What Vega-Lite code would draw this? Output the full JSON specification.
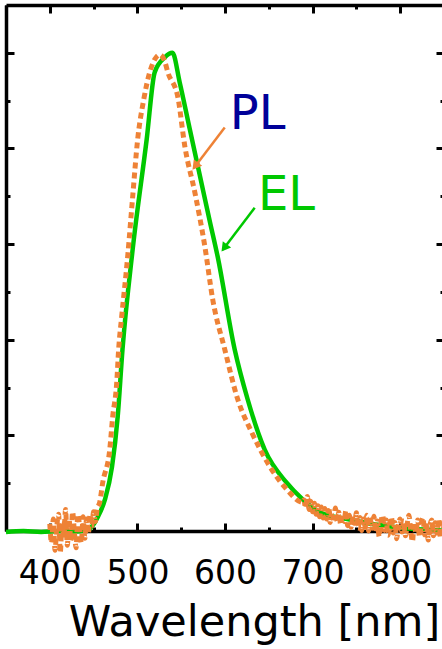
{
  "$schema": "https://vega.github.io/schema/vega-lite/v6.json",
  "width": 438,
  "height": 526,
  "autosize": "none",
  "padding": {"left": 6, "top": 5, "right": 0, "bottom": 118},
  "background": "white",
  "config": {"view": {"stroke": null}, "axis": {"grid": false, "domainColor": "black", "tickColor": "black", "labelColor": "black", "titleColor": "black"}},
  "layer": [
    {
      "encoding": {
        "x": {"field": "w", "type": "quantitative", "scale": {"domain": [350, 850], "nice": false, "zero": false},
          "axis": {"orient": "bottom", "values": [350, 400, 450, 500, 550, 600, 650, 700, 750, 800, 850],
            "labelExpr": "datum.value % 100 === 0 ? datum.label : ''",
            "tickSize": {"condition": {"test": "datum.value % 100 === 0", "value": -8}, "value": -4},
            "tickWidth": 3, "domainWidth": 3.5, "labelFont": "DejaVu Sans", "labelFontSize": 33, "labelPadding": 34,
            "labelFlush": false, "labelOverlap": false,
            "title": "Wavelength [nm]", "titleFont": "DejaVu Sans", "titleFontSize": 43, "titleFontWeight": "normal",
            "titleX": 248, "titleY": 104, "titleBaseline": "alphabetic", "titleAlign": "center", "titleAnchor": null}},
        "y": {"field": "p", "type": "quantitative", "scale": {"domain": [0, 1.1], "nice": false, "zero": false},
          "axis": {"orient": "left", "values": [0.1, 0.2, 0.3, 0.4, 0.5, 0.6, 0.7, 0.8, 0.9, 1.0], "labels": false, "title": null,
            "tickSize": {"condition": {"test": "round(datum.value*10) % 2 === 0", "value": -8}, "value": -4},
            "tickWidth": 3, "domainWidth": 3.5}}
      },
      "layer": [
        {
          "data": {"values": [
            {"w": 350, "p": -0.002}, {"w": 370, "p": 0.0}, {"w": 390, "p": -0.002}, {"w": 410, "p": 0.0}, {"w": 430, "p": -0.001},
            {"w": 440, "p": 0.001}, {"w": 445, "p": 0.003}, {"w": 448, "p": 0.009}, {"w": 455, "p": 0.03}, {"w": 463, "p": 0.066},
            {"w": 471, "p": 0.134}, {"w": 477.5, "p": 0.239}, {"w": 483, "p": 0.38}, {"w": 494.6, "p": 0.589}, {"w": 510.6, "p": 0.819},
            {"w": 519.7, "p": 0.959}, {"w": 531, "p": 0.99}, {"w": 540, "p": 1.0}, {"w": 548.3, "p": 0.938}, {"w": 559.7, "p": 0.841},
            {"w": 571.1, "p": 0.745}, {"w": 582.5, "p": 0.649}, {"w": 591.6, "p": 0.574}, {"w": 611, "p": 0.38}, {"w": 625.9, "p": 0.275},
            {"w": 645.3, "p": 0.17}, {"w": 670.4, "p": 0.101}, {"w": 688.7, "p": 0.066}, {"w": 708, "p": 0.039}, {"w": 742, "p": 0.024},
            {"w": 770, "p": 0.014}, {"w": 800, "p": 0.007}, {"w": 850, "p": 0.001}
          ]},
          "mark": {"type": "line", "color": "#00C800", "strokeWidth": 4.5, "interpolate": "monotone"}
        },
        {
          "data": {"values": [
            {"w": 400, "p": 0.015}, {"w": 402, "p": -0.025}, {"w": 404, "p": 0.025}, {"w": 406, "p": -0.04}, {"w": 408, "p": 0.01},
            {"w": 410, "p": 0.035}, {"w": 412, "p": -0.045}, {"w": 414, "p": 0.02}, {"w": 416, "p": -0.015}, {"w": 418, "p": 0.045},
            {"w": 420, "p": -0.03}, {"w": 422, "p": 0.025}, {"w": 424, "p": -0.02}, {"w": 426, "p": 0.04}, {"w": 428, "p": 0.0},
            {"w": 430, "p": -0.035}, {"w": 432, "p": 0.035}, {"w": 434, "p": 0.01}, {"w": 436, "p": -0.025}, {"w": 438, "p": 0.03},
            {"w": 440, "p": -0.015}, {"w": 442, "p": 0.025}, {"w": 444, "p": -0.005}, {"w": 446, "p": 0.035}, {"w": 448, "p": 0.01},
            {"w": 450, "p": 0.04}, {"w": 452, "p": 0.02}, {"w": 454, "p": 0.045}, {"w": 457, "p": 0.06}, {"w": 460.4, "p": 0.101},
            {"w": 468.4, "p": 0.17}, {"w": 471.8, "p": 0.239}, {"w": 476.4, "p": 0.31}, {"w": 478.6, "p": 0.38}, {"w": 482.1, "p": 0.449},
            {"w": 488.9, "p": 0.574}, {"w": 494.6, "p": 0.699}, {"w": 500.3, "p": 0.819}, {"w": 507.2, "p": 0.902}, {"w": 514, "p": 0.959},
            {"w": 519.7, "p": 0.986}, {"w": 525.5, "p": 0.996}, {"w": 531.2, "p": 0.982}, {"w": 534.8, "p": 0.959}, {"w": 546.2, "p": 0.907},
            {"w": 554.2, "p": 0.804}, {"w": 565.6, "p": 0.708}, {"w": 577, "p": 0.595}, {"w": 586, "p": 0.484}, {"w": 599.7, "p": 0.38},
            {"w": 614.6, "p": 0.275}, {"w": 630.6, "p": 0.206}, {"w": 651.1, "p": 0.135}, {"w": 670.5, "p": 0.087}, {"w": 688.7, "p": 0.06},
            {"w": 690, "p": 0.065}, {"w": 692, "p": 0.048}, {"w": 694, "p": 0.072}, {"w": 696, "p": 0.045}, {"w": 698, "p": 0.062},
            {"w": 700, "p": 0.04}, {"w": 702, "p": 0.058}, {"w": 704, "p": 0.035}, {"w": 706, "p": 0.053}, {"w": 708, "p": 0.03},
            {"w": 710, "p": 0.05}, {"w": 712, "p": 0.027}, {"w": 714, "p": 0.047}, {"w": 716, "p": 0.025}, {"w": 718, "p": 0.043},
            {"w": 720, "p": 0.018}, {"w": 722, "p": 0.041}, {"w": 724, "p": 0.027}, {"w": 726, "p": 0.048}, {"w": 728, "p": 0.021},
            {"w": 730, "p": 0.039}, {"w": 732, "p": 0.014}, {"w": 734, "p": 0.036}, {"w": 736, "p": 0.02}, {"w": 738, "p": 0.043},
            {"w": 740, "p": 0.011}, {"w": 742, "p": 0.033}, {"w": 744, "p": 0.008}, {"w": 746, "p": 0.031}, {"w": 748, "p": 0.016},
            {"w": 750, "p": 0.038}, {"w": 752, "p": 0.006}, {"w": 754, "p": 0.028}, {"w": 756, "p": 0.001}, {"w": 758, "p": 0.025},
            {"w": 760, "p": 0.008}, {"w": 762, "p": 0.033}, {"w": 764, "p": 0.0}, {"w": 766, "p": 0.023}, {"w": 768, "p": 0.006},
            {"w": 770, "p": 0.031}, {"w": 772, "p": -0.002}, {"w": 774, "p": 0.021}, {"w": 776, "p": -0.012}, {"w": 778, "p": 0.018},
            {"w": 780, "p": 0.033}, {"w": 782, "p": 0.001}, {"w": 784, "p": 0.023}, {"w": 786, "p": -0.009}, {"w": 788, "p": 0.015},
            {"w": 790, "p": 0.029}, {"w": 792, "p": -0.004}, {"w": 794, "p": 0.018}, {"w": 796, "p": -0.016}, {"w": 798, "p": 0.013},
            {"w": 800, "p": 0.025}, {"w": 802, "p": -0.002}, {"w": 804, "p": 0.021}, {"w": 806, "p": -0.01}, {"w": 808, "p": 0.015},
            {"w": 810, "p": 0.033}, {"w": 812, "p": 0.001}, {"w": 814, "p": -0.022}, {"w": 816, "p": 0.017}, {"w": 818, "p": -0.004},
            {"w": 820, "p": 0.023}, {"w": 822, "p": -0.012}, {"w": 824, "p": 0.015}, {"w": 826, "p": 0.028}, {"w": 828, "p": -0.008},
            {"w": 830, "p": 0.018}, {"w": 832, "p": -0.019}, {"w": 834, "p": 0.013}, {"w": 836, "p": 0.023}, {"w": 838, "p": -0.01},
            {"w": 840, "p": 0.017}, {"w": 842, "p": -0.004}, {"w": 844, "p": 0.025}, {"w": 846, "p": -0.014}, {"w": 848, "p": 0.015},
            {"w": 850, "p": 0.004}
          ]},
          "mark": {"type": "line", "color": "#EE8236", "strokeWidth": 5, "strokeDash": [6, 4], "interpolate": "monotone"}
        },
        {
          "data": {"values": [
            {"series": "PL", "w": 599.7, "p": 0.844, "w2": 564.5, "p2": 0.759},
            {"series": "EL", "w": 633.9, "p": 0.676, "w2": 597.5, "p2": 0.588}
          ]},
          "mark": {"type": "rule", "strokeWidth": 2.5},
          "encoding": {
            "x2": {"field": "w2"}, "y2": {"field": "p2"},
            "color": {"field": "series", "type": "nominal", "scale": {"domain": ["PL", "EL"], "range": ["#EE8236", "#00C800"]}, "legend": null}
          }
        },
        {
          "data": {"values": [
            {"series": "PL", "w": 566.0, "p": 0.763},
            {"series": "EL", "w": 599.1, "p": 0.592}
          ]},
          "mark": {"type": "point", "shape": "triangle-up", "angle": 217, "filled": true, "size": 110, "opacity": 1},
          "encoding": {
            "color": {"field": "series", "type": "nominal", "scale": {"domain": ["PL", "EL"], "range": ["#EE8236", "#00C800"]}, "legend": null}
          }
        },
        {
          "data": {"values": [{"label": "PL", "w": 605.4, "p": 0.84}]},
          "mark": {"type": "text", "font": "DejaVu Sans", "fontSize": 48, "color": "#000099", "align": "left", "baseline": "alphabetic"},
          "encoding": {"text": {"field": "label"}}
        },
        {
          "data": {"values": [{"label": "EL", "w": 637.6, "p": 0.672}]},
          "mark": {"type": "text", "font": "DejaVu Sans", "fontSize": 48, "color": "#00C800", "align": "left", "baseline": "alphabetic"},
          "encoding": {"text": {"field": "label"}}
        }
      ]
    },
    {
      "data": {"values": [{"w": 350, "p": 0}]},
      "mark": {"type": "point", "opacity": 0},
      "encoding": {
        "x": {"field": "w", "type": "quantitative", "scale": {"domain": [350, 850], "nice": false, "zero": false},
          "axis": {"orient": "top", "values": [350, 400, 450, 500, 550, 600, 650, 700, 750, 800, 850], "labels": false, "title": null,
            "tickSize": {"condition": {"test": "datum.value % 100 === 0", "value": -8}, "value": -4},
            "tickWidth": 3, "domainWidth": 3.5}},
        "y": {"field": "p", "type": "quantitative", "scale": {"domain": [0, 1.1], "nice": false, "zero": false},
          "axis": {"orient": "right", "values": [0.1, 0.2, 0.3, 0.4, 0.5, 0.6, 0.7, 0.8, 0.9, 1.0], "labels": false, "title": null,
            "tickSize": {"condition": {"test": "round(datum.value*10) % 2 === 0", "value": -8}, "value": -4},
            "tickWidth": 3, "domainWidth": 3.5}}
      }
    }
  ],
  "resolve": {"scale": {"x": "independent", "y": "independent"}}
}
